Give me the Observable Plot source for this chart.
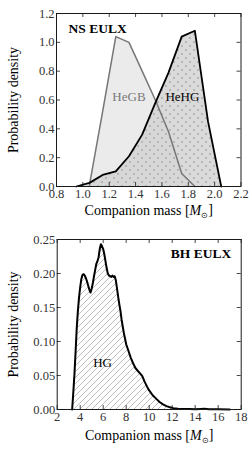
<!DOCTYPE html>
<html><head><meta charset="utf-8">
<script src="https://cdn.jsdelivr.net/npm/d3@7"></script>
<script src="https://cdn.jsdelivr.net/npm/@observablehq/plot@0.6"></script>
<style>
body{margin:0;background:#fff}
svg{display:block; background:#fff}
svg text{font-family:"Liberation Serif", "Times New Roman", serif !important}
</style>
</head><body><div id="c"></div>
<script>
// ---- Data: NS EULX panel ----
const heGBMass    = [1.05, 1.15, 1.25, 1.35, 1.45, 1.55, 1.65, 1.75, 1.85];
const heGBDensity = [0.01, 0.52, 1.04, 1.00, 0.80, 0.60, 0.38, 0.09, 0.00];
const heHGMass    = [0.95, 1.05, 1.15, 1.25, 1.35, 1.45, 1.55, 1.65, 1.75, 1.85, 1.95, 2.05];
const heHGDensity = [0.00, 0.025, 0.08, 0.105, 0.21, 0.36, 0.58, 0.79, 1.04, 1.08, 0.45, 0.00];
const nsTicksX = [0.8, 1.0, 1.2, 1.4, 1.6, 1.8, 2.0, 2.2];
const nsTicksY = [0.0, 0.2, 0.4, 0.6, 0.8, 1.0, 1.2];
const nsLabels = [{text: "HeGB", x: 1.35, y: 0.62, color: "#7a7a7a"}, {text: "HeHG", x: 1.755, y: 0.62, color: "#000"}];

// ---- Data: BH EULX panel ----
const hgMass = [
  3.3,3.4,3.5,3.6,3.7,3.8,3.9,4.0,4.1,4.2,
  4.3,4.4,4.5,4.6,4.7,4.8,4.9,5.0,5.1,5.2,
  5.3,5.4,5.5,5.6,5.7,5.8,5.9,6.0,6.1,6.2,
  6.3,6.4,6.5,6.6,6.7,6.8,6.9,7.0,7.1,7.2,
  7.3,7.4,7.5,7.6,7.7,7.8,7.9,8.0,8.2,8.4,
  8.6,8.8,9.0,9.2,9.4,9.6,9.8,10.0,10.3,10.6,
  10.9,11.2,11.5,11.8,12.1,12.5,13.0,13.5,14.0,14.5,
  14.8,15.2,16.0,17.0];
const hgDensity = [
  0,0.025,0.052,0.085,0.12,0.145,0.165,0.18,0.192,0.198,
  0.199,0.197,0.193,0.188,0.182,0.176,0.172,0.178,0.186,0.196,
  0.205,0.214,0.218,0.224,0.236,0.243,0.24,0.236,0.228,0.218,
  0.208,0.2,0.197,0.196,0.195,0.197,0.195,0.196,0.19,0.178,
  0.166,0.155,0.145,0.132,0.122,0.112,0.104,0.096,0.086,0.076,
  0.068,0.061,0.057,0.053,0.049,0.041,0.034,0.028,0.021,0.016,
  0.011,0.0075,0.005,0.0033,0.002,0.0012,0.0008,0.0006,0.0005,0.0009,
  0.0012,0.0004,0.0002,0];
const bhTicksX = [2, 4, 6, 8, 10, 12, 14, 16, 18];
const bhTicksY = [0.00, 0.05, 0.10, 0.15, 0.20, 0.25];
const bhLabels = [{text: "HG", x: 5.95, y: 0.069, color: "#000"}];

(function () {
const heGB = heGBMass.map((m, i) => ({m, d: heGBDensity[i]}));
const heHG = heHGMass.map((m, i) => ({m, d: heHGDensity[i]}));
const hg = hgMass.map((m, i) => ({m, d: hgDensity[i]}));

const FF = "Liberation Serif";
const INK = "#1a1a1a";
const TICKC = "#333";

function inwardTicks(xt, yt, innerW, innerH, len) {
  return [
    Plot.tickX(xt, {x: d => d, insetTop: innerH - len, stroke: INK, strokeWidth: 0.8}),
    Plot.tickX(xt, {x: d => d, insetBottom: innerH - len, stroke: INK, strokeWidth: 0.8}),
    Plot.tickY(yt, {y: d => d, insetRight: innerW - len, stroke: INK, strokeWidth: 0.8}),
    Plot.tickY(yt, {y: d => d, insetLeft: innerW - len, stroke: INK, strokeWidth: 0.8})
  ];
}

function fixLabel(svg) {
  const t = d3.select(svg).select('text[aria-label="xlabel"]');
  t.text(null);
  t.append("tspan").text("Companion mass [");
  t.append("tspan").attr("font-style", "italic").text("M");
  t.append("tspan").attr("font-size", "0.6em").attr("dy", "0.35em").text("\u2299");
  t.append("tspan").attr("dy", "-0.25em").text("]");
}

function addDefs(svg, html) {
  d3.select(svg).insert("defs", ":first-child").html(html);
}

const sty = "font-family:'Liberation Serif',serif;font-size:12px;color:#1a1a1a;background:#fff;overflow:visible";

// ---- Top panel ----
const tm = {l: 56, r: 9.5, t: 13, b: 39};
const topPlot = Plot.plot({
  width: 250, height: 225,
  marginLeft: tm.l, marginRight: tm.r, marginTop: tm.t, marginBottom: tm.b,
  style: sty,
  x: {domain: [0.8, 2.2]},
  y: {domain: [0, 1.2]},
  marks: [
    Plot.areaY(heGB, {x: "m", y: "d", fill: "#ebebeb"}),
    Plot.areaY(heHG, {x: "m", y: "d", fill: "#d3d3d3", fillOpacity: 0.85}),
    Plot.areaY(heHG, {x: "m", y: "d", fill: "url(#dots)"}),
    Plot.line(heGB, {x: "m", y: "d", stroke: "#777", strokeWidth: 1.5}),
    Plot.line(heHG, {x: "m", y: "d", stroke: "#000", strokeWidth: 1.8}),
    Plot.axisX(nsTicksX, {tickSize: 0, tickPadding: 3, tickFormat: d => d.toFixed(1), label: null, fontSize: 12.5, fontFamily: FF, fill: TICKC}),
    Plot.axisY(nsTicksY, {tickSize: 0, tickPadding: 2, tickFormat: d => d.toFixed(1), label: null, fontSize: 12.5, fontFamily: FF, fill: TICKC}),
    ...inwardTicks(nsTicksX, nsTicksY, 250 - tm.l - tm.r, 225 - tm.t - tm.b, 4),
    Plot.frame({stroke: INK, strokeWidth: 1}),
    Plot.text(["NS EULX"], {frameAnchor: "top-left", dx: 12, dy: 15, textAnchor: "start", lineAnchor: "middle", fontWeight: "bold", fontSize: 13.5, fontFamily: FF, fill: "#000"}),
    Plot.text(nsLabels, {x: "x", y: "y", text: "text", fill: "color", fontSize: 13, fontFamily: FF}),
    Plot.text(["Probability density"], {frameAnchor: "left", dx: -43, rotate: -90, textAnchor: "middle", lineAnchor: "middle", fontSize: 14, fontFamily: FF, fill: "#000"}),
    Plot.text(["Companion mass"], {frameAnchor: "bottom", dy: 24, textAnchor: "middle", lineAnchor: "middle", fontSize: 14, fontFamily: FF, fill: "#000", ariaLabel: () => "xlabel"})
  ]
});
addDefs(topPlot, '<pattern id="dots" patternUnits="userSpaceOnUse" width="8" height="8"><circle cx="2" cy="2" r="0.8" fill="#8a8a8a"/><circle cx="6" cy="6" r="0.8" fill="#8a8a8a"/></pattern>');
fixLabel(topPlot);

// ---- Bottom panel ----
const bm = {l: 56.7, r: 9.3, t: 14, b: 41};
const bottomPlot = Plot.plot({
  width: 250, height: 225,
  marginLeft: bm.l, marginRight: bm.r, marginTop: bm.t, marginBottom: bm.b,
  style: sty,
  x: {domain: [2, 18]},
  y: {domain: [0, 0.25]},
  marks: [
    Plot.areaY(hg, {x: "m", y: "d", fill: "url(#diag)"}),
    Plot.line(hg, {x: "m", y: "d", stroke: "#000", strokeWidth: 2}),
    Plot.axisX(bhTicksX, {tickSize: 0, tickPadding: 3, tickFormat: d => String(d), label: null, fontSize: 12.5, fontFamily: FF, fill: TICKC}),
    Plot.axisY(bhTicksY, {tickSize: 0, tickPadding: 2, tickFormat: d => d.toFixed(2), label: null, fontSize: 12.5, fontFamily: FF, fill: TICKC}),
    ...inwardTicks(bhTicksX, bhTicksY, 250 - bm.l - bm.r, 225 - bm.t - bm.b, 4),
    Plot.frame({stroke: INK, strokeWidth: 1}),
    Plot.text(["BH EULX"], {frameAnchor: "top-right", dx: -10, dy: 14, textAnchor: "end", lineAnchor: "middle", fontWeight: "bold", fontSize: 13.5, fontFamily: FF, fill: "#000"}),
    Plot.text(bhLabels, {x: "x", y: "y", text: "text", fill: "color", fontSize: 13, fontFamily: FF}),
    Plot.text(["Probability density"], {frameAnchor: "left", dx: -43.7, rotate: -90, textAnchor: "middle", lineAnchor: "middle", fontSize: 14, fontFamily: FF, fill: "#000"}),
    Plot.text(["Companion mass"], {frameAnchor: "bottom", dy: 26, textAnchor: "middle", lineAnchor: "middle", fontSize: 14, fontFamily: FF, fill: "#000", ariaLabel: () => "xlabel"})
  ]
});
addDefs(bottomPlot, '<pattern id="diag" patternUnits="userSpaceOnUse" width="6" height="6"><path d="M-1,1 L1,-1 M0,6 L6,0 M5,7 L7,5" stroke="#a0a0a0" stroke-width="0.7"/></pattern>');
fixLabel(bottomPlot);

document.getElementById("c").append(topPlot, bottomPlot);
})();
</script></body></html>
